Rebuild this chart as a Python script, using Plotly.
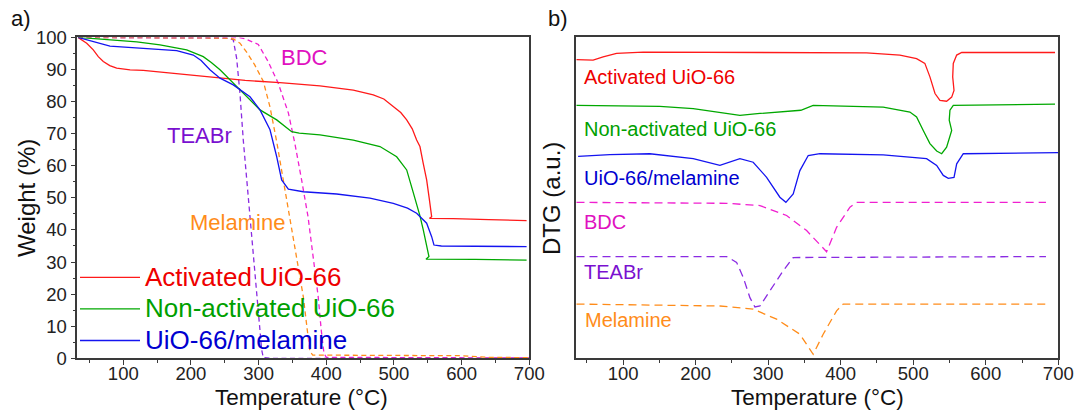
import plotly.graph_objects as go

# ---------------- Panel a) TGA (Temperature in °C, Weight in %) ----------------
act_T = [33, 45.9, 55.6, 63, 70.4, 80, 90.2, 110, 129.5, 160, 203.4, 242.9, 280, 331.5, 390.6,
         439.9, 469.4, 485, 499, 510, 518.8, 527, 533.5, 538.4, 543, 548.3, 552, 554.7, 555.7,
         552.5, 560, 587.6, 640, 696]
act_W = [100, 98.2, 96.1, 94.0, 92.5, 91.2, 90.4, 89.9, 89.7, 89.1, 88.3, 87.3, 86.6, 85.9, 84.9,
         83.6, 82.1, 80.8, 78.4, 76.6, 74.3, 71.5, 68.0, 66.0, 61.0, 55.6, 50.0, 46.2, 44.1,
         43.6, 43.6, 43.5, 43.2, 42.9]

non_T = [33, 80.3, 120, 154.2, 193.7, 218.2, 230, 242.9, 262.5, 280, 302, 326.7, 348.8, 360,
         390.6, 439.9, 479.3, 504, 518.8, 528, 533.5, 538.4, 543.3, 548.3, 551.7, 547.3, 560, 620, 696]
non_W = [100, 99.2, 98.6, 97.7, 96.1, 94.0, 92.2, 89.9, 85.7, 81.8, 77.4, 74.3, 70.6, 70.2,
         69.6, 68.0, 66.0, 62.8, 58.7, 52.0, 48.3, 44.4, 40.0, 35.3, 31.7, 30.9, 30.9, 30.8, 30.6]

mel_comp_T = [33, 55.6, 80.3, 129.5, 178.9, 203.4, 215, 228, 242.9, 262.5, 287.2, 302, 316.8,
              326.7, 334, 343.9, 366, 415.3, 464.5, 499, 520, 533.5, 538.4, 548.3, 555.7, 559.1,
              570, 630, 696]
mel_comp_W = [100, 98.7, 97.3, 96.6, 95.9, 94.5, 92.8, 89.9, 87.3, 85.2, 81.5, 77.4, 71.2,
              62.8, 55.6, 52.7, 51.9, 51.2, 49.9, 48.3, 46.8, 45.2, 44.1, 42.1, 37.9, 35.3,
              35.0, 34.9, 34.8]

bdc_T = [33, 250, 272, 280, 299.5, 314, 329, 344, 353.5, 363.5, 373, 380.5, 388, 392.5, 396.5, 400, 700]
bdc_W = [100, 100, 99.9, 99.6, 97.8, 92.5, 85.7, 76.4, 67.0, 55.6, 44.1, 31.7, 19.2, 8.8, 1.6, 0.3, 0.1]

teabr_T = [33, 200, 250, 258, 262.5, 267.5, 272.4, 277.3, 282.3, 289.7, 297, 304.5, 306.9, 320, 700]
teabr_W = [100, 100, 99.8, 99.6, 99.2, 93.5, 82.5, 68.0, 55.6, 37.9, 19.2, 2.6, 0.2, 0, 0]

mela_T = [33, 200, 250, 262.5, 272.4, 282.3, 294, 306.9, 316.8, 326.7, 336.4, 346.3, 356.2,
          366, 371.9, 375.9, 380, 450, 550, 600, 640, 700]
mela_W = [100, 100, 99.8, 99.5, 98.2, 95.4, 91.5, 86.3, 78.3, 67.5, 55.6, 44.1, 31.7,
          19.2, 8.8, 2.1, 1.0, 1.0, 1.0, 0.8, 0.3, 0.2]

# ---------------- Panel b) DTG (arbitrary units, stacked curves) ----------------
dtg_act_T = [35.7, 58.6, 72.4, 90.9, 127.6, 357.5, 435.7, 481.6, 504.6, 516, 523, 530, 536.8,
             546, 553, 556.2, 554.4, 555.2, 559.9, 566.8, 695.5]
dtg_act_Y = [93.1, 92.9, 93.9, 95.0, 95.4, 95.4, 95.2, 94.5, 93.4, 91.9, 87.7, 82.5, 80.4,
             80.1, 81.4, 83.5, 87.7, 91.9, 94.5, 95.3, 95.3]

dtg_non_T = [35.7, 150.6, 196.6, 261, 288.6, 334.5, 345, 362, 458.6, 495.4, 504.6, 513.8, 523,
             532.3, 539.2, 546, 553, 549.6, 550.6, 555.2, 695.5]
dtg_non_Y = [78.8, 78.5, 77.8, 75.7, 76.3, 77.3, 77.3, 78.8, 78.3, 76.75, 75.2, 71.0, 66.9,
             64.6, 63.75, 65.8, 71.0, 74.2, 77.3, 78.8, 79.2]

dtg_mel_comp_T = [37.9, 81.7, 136.8, 196.6, 233.4, 261, 279.3, 297.8, 316.1, 324.4, 334.5, 343.7,
                  355.2, 371.3, 458.6, 518.4, 532.3, 541.4, 548.3, 556.2, 559.9, 569, 700]
dtg_mel_comp_Y = [62.9, 63.5, 63.75, 62.2, 60.1, 62.2, 61.1, 56.4, 50.2, 48.6, 51.25, 58.5,
                  63.2, 63.75, 63.4, 62.2, 60.1, 57.0, 56.1, 56.4, 60.6, 63.75, 64.1]

dtg_bdc_T = [35.7, 242.6, 288.6, 325.4, 353, 380.5, 394.3, 412.7, 421.9, 683]
dtg_bdc_Y = [48.6, 48.3, 47.6, 44.5, 39.8, 33.2, 40.8, 47.1, 48.6, 48.6]

dtg_teabr_T = [35.7, 242.6, 256.4, 265.6, 274.8, 281.7, 288.6, 302.4, 320.7, 334.5, 683]
dtg_teabr_Y = [31.7, 31.7, 29.9, 25.2, 18.9, 16.0, 16.3, 21.0, 27.3, 31.4, 31.7]

dtg_mela_T = [35.7, 233.4, 279.3, 311.6, 343.7, 362, 375.8, 394.3, 403.4, 683]
dtg_mela_Y = [16.9, 16.3, 15.3, 12.2, 7.5, 1.25, 7.5, 14.8, 16.9, 16.9]

# ---------------- labels ----------------
legend_names = ["Activated UiO-66", "Non-activated UiO-66", "UiO-66/melamine"]
ref_names = ["BDC", "TEABr", "Melamine"]
x_ticks = [100, 200, 300, 400, 500, 600, 700]
y_ticks = [0, 10, 20, 30, 40, 50, 60, 70, 80, 90, 100]

RED, GREEN, BLUE = "#FF1A1A", "#00A800", "#1414F0"
TRED, TGREEN, TBLUE = "#EE0000", "#00A000", "#0000D0"
MAG, PUR, ORA = "#F020D0", "#8A2BE2", "#FF8C1A"
TMAG, TPUR, TORA = "#E010C0", "#7A10D0", "#FF8C1A"
FONT = "Liberation Sans, Arial, sans-serif"

W, H = 1078, 410
def px(x):
    return x / W
def py(y):
    return 1 - y / H

fig = go.Figure()

solid = [(act_T, act_W, RED, TRED, legend_names[0]),
         (non_T, non_W, GREEN, TGREEN, legend_names[1]),
         (mel_comp_T, mel_comp_W, BLUE, TBLUE, legend_names[2])]
dashed = [(bdc_T, bdc_W, MAG), (teabr_T, teabr_W, PUR), (mela_T, mela_W, ORA)]

for t, w, c in dashed:
    fig.add_trace(go.Scatter(x=t, y=w, mode="lines", line=dict(color=c, width=1.3, dash="5px,3.5px"),
                             showlegend=False, xaxis="x", yaxis="y"))
for t, w, c, tc, n in solid:
    label = "<span style='color:%s;font-size:26px'>%s</span>" % (tc, n)
    fig.add_trace(go.Scatter(x=t, y=w, mode="lines", line=dict(color=c, width=1.3),
                             name=label, showlegend=True, xaxis="x", yaxis="y"))

dtg_solid = [(dtg_act_T, dtg_act_Y, RED), (dtg_non_T, dtg_non_Y, GREEN),
             (dtg_mel_comp_T, dtg_mel_comp_Y, BLUE)]
dtg_dashed = [(dtg_bdc_T, dtg_bdc_Y, MAG), (dtg_teabr_T, dtg_teabr_Y, PUR),
              (dtg_mela_T, dtg_mela_Y, ORA)]
for t, y, c in dtg_solid:
    fig.add_trace(go.Scatter(x=t, y=y, mode="lines", line=dict(color=c, width=1.3),
                             showlegend=False, xaxis="x2", yaxis="y2"))
for t, y, c in dtg_dashed:
    fig.add_trace(go.Scatter(x=t, y=y, mode="lines", line=dict(color=c, width=1.3, dash="8px,5px"),
                             showlegend=False, xaxis="x2", yaxis="y2"))

axis_common = dict(showline=True, linecolor="#3a3a3a", linewidth=1.5, mirror=True,
                   showgrid=False, zeroline=False, ticks="outside", ticklen=5, tickwidth=1.2,
                   automargin=False,
                   tickcolor="#3a3a3a", tickfont=dict(family=FONT, size=18.5, color="#222"))
minor_x = dict(dtick=50, tick0=0, ticks="outside", ticklen=3, tickcolor="#3a3a3a")

ydom = [py(358.3), py(37.4)]
fig.update_layout(
    width=W, height=H, margin=dict(l=0, r=0, t=0, b=0, pad=0, autoexpand=False),
    paper_bgcolor="white", plot_bgcolor="white",
    xaxis=dict(domain=[px(77.3), px(529.3)], range=[32, 700], tickvals=x_ticks,
               minor=minor_x, ticklabelstandoff=-7, **axis_common),
    yaxis=dict(domain=ydom, range=[0, 100], tickvals=y_ticks,
               minor=dict(dtick=5, tick0=0, ticks="outside", ticklen=3, tickcolor="#3a3a3a"),
               **axis_common),
    xaxis2=dict(domain=[px(576), px(1058.3)], range=[35, 700], tickvals=x_ticks, anchor="y2",
                minor=minor_x, ticklabelstandoff=-7, **axis_common),
    yaxis2=dict(domain=ydom, range=[0, 100], anchor="x2", showline=True, linecolor="#3a3a3a",
                linewidth=1.5, mirror=True, showgrid=False, zeroline=False, automargin=False,
                showticklabels=False, ticks=""),
    legend=dict(x=px(75), y=py(256.5), xanchor="left", yanchor="top",
                bgcolor="rgba(0,0,0,0)", font=dict(family=FONT, size=22, color="#111"),
                itemwidth=60, tracegroupgap=0),
    showlegend=True,
)

ann = []
def add(text, x, y, color, size, xanchor="center", angle=0):
    ann.append(dict(text=text, x=px(x), y=py(y), xref="paper", yref="paper", showarrow=False,
                    xanchor=xanchor, yanchor="middle", textangle=angle, borderpad=0,
                    font=dict(family=FONT, size=size, color=color)))

add(ref_names[0], 304, 57.3, TMAG, 22)
add(ref_names[1], 199.3, 135, TPUR, 22)
add(ref_names[2], 237.5, 222.7, TORA, 22)

add(legend_names[0], 582.7, 76.7, TRED, 20, "left")
add(legend_names[1], 582.7, 129, TGREEN, 20, "left")
add(legend_names[2], 582.7, 178.3, TBLUE, 20, "left")
add(ref_names[0], 583.3, 221.7, TMAG, 20, "left")
add(ref_names[1], 583.3, 271.7, TPUR, 20, "left")
add(ref_names[2], 584, 320, TORA, 20, "left")

add("a)", 21, 18, "#111", 22)
add("b)", 558, 18, "#111", 22)
add("Weight (%)", 26, 198, "#111", 24, angle=-90)
add("DTG (a.u.)", 551, 199, "#111", 24, angle=-90)
add("Temperature (°C)", 301, 397.5, "#111", 22.5)
add("Temperature (°C)", 817, 397.5, "#111", 22.5)

fig.update_layout(annotations=ann)
fig.write_html("out.html", config={"displayModeBar": False},
               post_script="document.body.style.margin='0';document.body.style.overflow='hidden';")
